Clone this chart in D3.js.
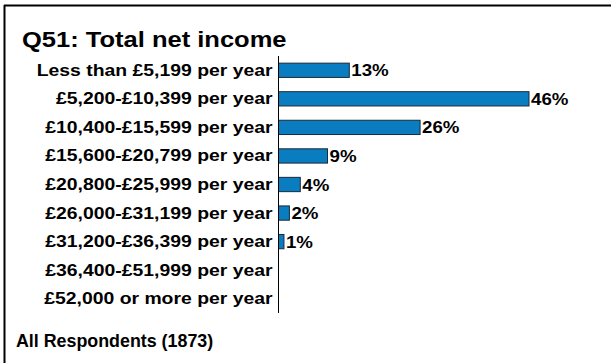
<!DOCTYPE html>
<html>
<head>
<meta charset="utf-8">
<script src="https://cdn.jsdelivr.net/npm/d3@7"></script>
<style>
  html, body { margin: 0; padding: 0; background: #fff; }
  svg { display: block; font-family: Arial, "Liberation Sans", sans-serif; }
</style>
</head>
<body>
<svg id="chart" width="611" height="363"></svg>
<script>
const title = "Q51: Total net income";
const footer = "All Respondents (1873)";
const categories = [
  "Less than £5,199 per year",
  "£5,200-£10,399 per year",
  "£10,400-£15,599 per year",
  "£15,600-£20,799 per year",
  "£20,800-£25,999 per year",
  "£26,000-£31,199 per year",
  "£31,200-£36,399 per year",
  "£36,400-£51,999 per year",
  "£52,000 or more per year"
];
const values = [13, 46, 26, 9, 4, 2, 1, 0, 0];
const valueLabels = ["13%", "46%", "26%", "9%", "4%", "2%", "1%", "", ""];

const svg = d3.select("#chart");

// widen text horizontally about its anchor point
function widen(sel, k) {
  sel.each(function () {
    const t = d3.select(this);
    const ax = +t.attr("x") || 0;
    t.attr("transform", `translate(${ax},0) scale(${k},1) translate(${-ax},0)`);
  });
}

// frame: top and left rules
svg.append("line").attr("x1", 4).attr("x2", 611).attr("y1", 5.5).attr("y2", 5.5)
  .attr("stroke", "#000").attr("stroke-width", 2);
svg.append("line").attr("x1", 4.5).attr("x2", 4.5).attr("y1", 5).attr("y2", 363)
  .attr("stroke", "#000").attr("stroke-width", 2);

svg.append("text").attr("x", 22).attr("y", 47)
  .attr("font-size", 22).attr("font-weight", "bold").attr("fill", "#000")
  .text(title).call(widen, 1.16);

svg.append("text").attr("x", 16).attr("y", 347)
  .attr("font-size", 17.5).attr("font-weight", "bold").attr("fill", "#000")
  .text(footer).call(widen, 1.02);

const x0 = 278.5;
const x = d3.scaleLinear().domain([0, 46]).range([x0, 529]);
const y = d3.scaleBand().domain(categories).range([56, 313]).paddingInner(0.5).paddingOuter(0.25);

const g = svg.append("g");

g.selectAll("rect.bar").data(values).join("rect")
  .attr("class", "bar")
  .attr("x", x0)
  .attr("y", (d, i) => y(categories[i]))
  .attr("width", d => x(d) - x0)
  .attr("height", y.bandwidth())
  .attr("fill", d => d > 0 ? "#0a7dc0" : "none")
  .attr("stroke", d => d > 0 ? "#1a2a3a" : "none")
  .attr("stroke-width", 1);

g.selectAll("text.val").data(values).join("text")
  .attr("class", "val")
  .attr("x", d => x(d) + 2)
  .attr("y", (d, i) => y(categories[i]) + y.bandwidth() / 2)
  .attr("dy", "0.36em")
  .attr("font-size", 17).attr("font-weight", "bold").attr("fill", "#000")
  .text((d, i) => valueLabels[i])
  .call(widen, 1.1);

const yAxis = d3.axisLeft(y).tickSize(0).tickPadding(6);
const axG = svg.append("g").attr("transform", `translate(${x0},0)`).call(yAxis);
axG.select(".domain").attr("stroke", "#000").attr("stroke-width", 1)
  .attr("d", "M0,56V313");
axG.selectAll("text").attr("font-size", 17).attr("font-weight", "bold")
  .attr("fill", "#000").attr("font-family", "Arial, 'Liberation Sans', sans-serif")
  .call(widen, 1.14);
</script>
</body>
</html>
